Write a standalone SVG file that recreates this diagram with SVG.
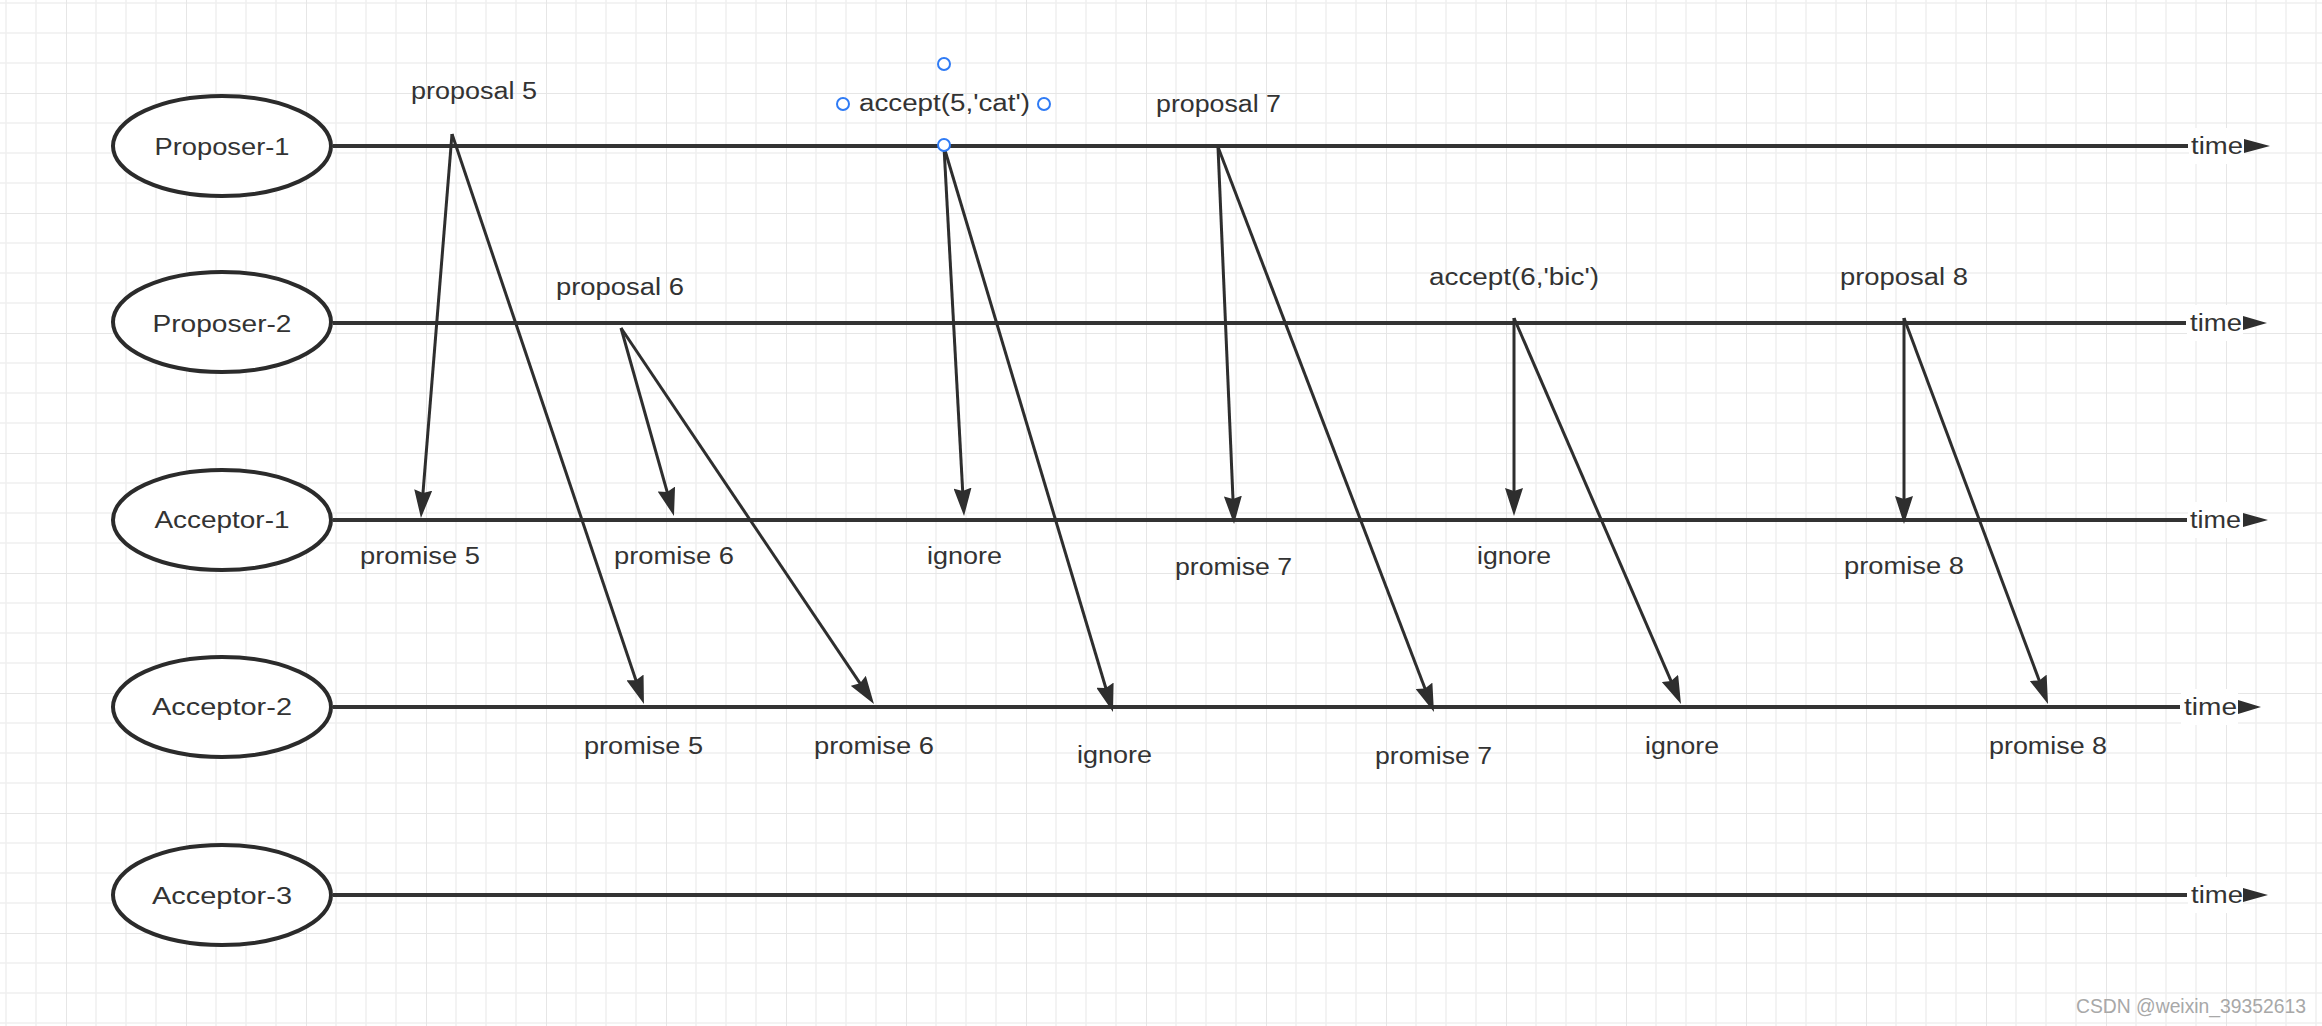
<svg xmlns="http://www.w3.org/2000/svg" width="2322" height="1026" viewBox="0 0 2322 1026">
<defs>
<style>
.lbl{font-family:"Liberation Sans",Arial,sans-serif;font-size:23px;fill:#333;}
.node ellipse{fill:#fff;stroke:#2b2b2b;stroke-width:4;}
.node text{font-family:"Liberation Sans",Arial,sans-serif;font-size:24px;fill:#333;text-anchor:middle;}
.tl{stroke:#333;stroke-width:4;fill:none;}
.msg{stroke:#2e2e2e;stroke-width:3;fill:none;marker-end:url(#ah);}
.tri{fill:#2e2e2e;}
.tbg{fill:#fff;}
.sel{fill:#fff;stroke:#2f7bf5;stroke-width:2;}
</style>
<marker id="ah" markerUnits="userSpaceOnUse" markerWidth="28" markerHeight="18" refX="20" refY="9" orient="auto">
<path d="M0,0 L28,9 L0,18 L3,9 z" fill="#2e2e2e"/>
</marker>
<pattern id="grid" patternUnits="userSpaceOnUse" x="-54" y="-27" width="120" height="120">
<rect width="120" height="120" fill="#fff"/>
<path d="M30,0V120M60,0V120M90,0V120M0,30H120M0,60H120M0,90H120" stroke="#f0f0f0" stroke-width="1.5"/>
<path d="M0,0V120M0,0H120" stroke="#e6e6e6" stroke-width="2"/>
</pattern>
</defs>
<rect width="2322" height="1026" fill="url(#grid)"/>

<g id="timelines">
<line class="tl" x1="333" y1="146" x2="2188" y2="146"/>
<line class="tl" x1="333" y1="323" x2="2186" y2="323"/>
<line class="tl" x1="333" y1="520" x2="2187" y2="520"/>
<line class="tl" x1="333" y1="707" x2="2180" y2="707"/>
<line class="tl" x1="333" y1="895" x2="2187" y2="895"/>
<rect class="tbg" x="2189" y="128" width="55" height="36"/>
<rect class="tbg" x="2187" y="305" width="56" height="36"/>
<rect class="tbg" x="2188" y="502" width="55" height="36"/>
<rect class="tbg" x="2181" y="689" width="57" height="36"/>
<rect class="tbg" x="2188" y="877" width="55" height="36"/>
<text class="lbl" x="2191" y="154" textLength="52" lengthAdjust="spacingAndGlyphs">time</text>
<text class="lbl" x="2190" y="331" textLength="52" lengthAdjust="spacingAndGlyphs">time</text>
<text class="lbl" x="2190" y="528" textLength="51" lengthAdjust="spacingAndGlyphs">time</text>
<text class="lbl" x="2184" y="715" textLength="53" lengthAdjust="spacingAndGlyphs">time</text>
<text class="lbl" x="2191" y="903" textLength="52" lengthAdjust="spacingAndGlyphs">time</text>
<polygon class="tri" points="2244,139 2270,146 2244,153"/>
<polygon class="tri" points="2243,316 2267,323 2243,330"/>
<polygon class="tri" points="2243,513 2268,520 2243,527"/>
<polygon class="tri" points="2238,700 2261,707 2238,714"/>
<polygon class="tri" points="2243,888 2268,895 2243,902"/>
</g>

<g id="proposer-1" class="node"><ellipse cx="222" cy="146" rx="109" ry="50"/><text x="222" y="155" textLength="135" lengthAdjust="spacingAndGlyphs">Proposer-1</text></g>
<g id="proposer-2" class="node"><ellipse cx="222" cy="322" rx="109" ry="50"/><text x="222" y="332" textLength="139" lengthAdjust="spacingAndGlyphs">Proposer-2</text></g>
<g id="acceptor-1" class="node"><ellipse cx="222" cy="520" rx="109" ry="50"/><text x="222" y="528" textLength="135" lengthAdjust="spacingAndGlyphs">Acceptor-1</text></g>
<g id="acceptor-2" class="node"><ellipse cx="222" cy="707" rx="109" ry="50"/><text x="222" y="715" textLength="140" lengthAdjust="spacingAndGlyphs">Acceptor-2</text></g>
<g id="acceptor-3" class="node"><ellipse cx="222" cy="895" rx="109" ry="50"/><text x="222" y="904" textLength="140" lengthAdjust="spacingAndGlyphs">Acceptor-3</text></g>

<g id="connectors">
<line class="msg" x1="452" y1="134" x2="421.6" y2="510"/>
<line class="msg" x1="452" y1="134" x2="641.4" y2="696.4"/>
<line class="msg" x1="621" y1="328" x2="671.8" y2="508.3"/>
<line class="msg" x1="621" y1="328" x2="869.5" y2="697.4"/>
<line class="msg" x1="944" y1="147" x2="963.6" y2="508"/>
<line class="msg" x1="944" y1="147" x2="1110.7" y2="704.3"/>
<line class="msg" x1="1218" y1="147" x2="1233.7" y2="516"/>
<line class="msg" x1="1218" y1="147" x2="1431.1" y2="704.5"/>
<line class="msg" x1="1514" y1="318" x2="1514" y2="508"/>
<line class="msg" x1="1514" y1="318" x2="1677.8" y2="696.7"/>
<line class="msg" x1="1904" y1="318" x2="1904" y2="516"/>
<line class="msg" x1="1904" y1="318" x2="2045.2" y2="696.5"/>
</g>

<g id="labels">
<text class="lbl" x="411" y="99" textLength="126" lengthAdjust="spacingAndGlyphs">proposal 5</text>
<text class="lbl" x="556" y="295" textLength="128" lengthAdjust="spacingAndGlyphs">proposal 6</text>
<text class="lbl" x="859" y="111" textLength="171" lengthAdjust="spacingAndGlyphs">accept(5,'cat')</text>
<text class="lbl" x="1156" y="112" textLength="125" lengthAdjust="spacingAndGlyphs">proposal 7</text>
<text class="lbl" x="1429" y="285" textLength="170" lengthAdjust="spacingAndGlyphs">accept(6,'bic')</text>
<text class="lbl" x="1840" y="285" textLength="128" lengthAdjust="spacingAndGlyphs">proposal 8</text>
<text class="lbl" x="360" y="564" textLength="120" lengthAdjust="spacingAndGlyphs">promise 5</text>
<text class="lbl" x="614" y="564" textLength="120" lengthAdjust="spacingAndGlyphs">promise 6</text>
<text class="lbl" x="927" y="564" textLength="75" lengthAdjust="spacingAndGlyphs">ignore</text>
<text class="lbl" x="1175" y="575" textLength="117" lengthAdjust="spacingAndGlyphs">promise 7</text>
<text class="lbl" x="1477" y="564" textLength="74" lengthAdjust="spacingAndGlyphs">ignore</text>
<text class="lbl" x="1844" y="574" textLength="120" lengthAdjust="spacingAndGlyphs">promise 8</text>
<text class="lbl" x="584" y="754" textLength="119" lengthAdjust="spacingAndGlyphs">promise 5</text>
<text class="lbl" x="814" y="754" textLength="120" lengthAdjust="spacingAndGlyphs">promise 6</text>
<text class="lbl" x="1077" y="763" textLength="75" lengthAdjust="spacingAndGlyphs">ignore</text>
<text class="lbl" x="1375" y="764" textLength="117" lengthAdjust="spacingAndGlyphs">promise 7</text>
<text class="lbl" x="1645" y="754" textLength="74" lengthAdjust="spacingAndGlyphs">ignore</text>
<text class="lbl" x="1989" y="754" textLength="118" lengthAdjust="spacingAndGlyphs">promise 8</text>
</g>

<g id="selection">
<circle class="sel" cx="843" cy="104" r="6"/>
<circle class="sel" cx="1044" cy="104" r="6"/>
<circle class="sel" cx="944" cy="64" r="6"/>
<circle class="sel" cx="944" cy="145" r="6"/>
</g>

<text x="2076" y="1013" textLength="230" lengthAdjust="spacingAndGlyphs" style="font-family:'Liberation Sans',Arial,sans-serif;font-size:20px;fill:#a8a8a8;">CSDN @weixin_39352613</text>
</svg>
